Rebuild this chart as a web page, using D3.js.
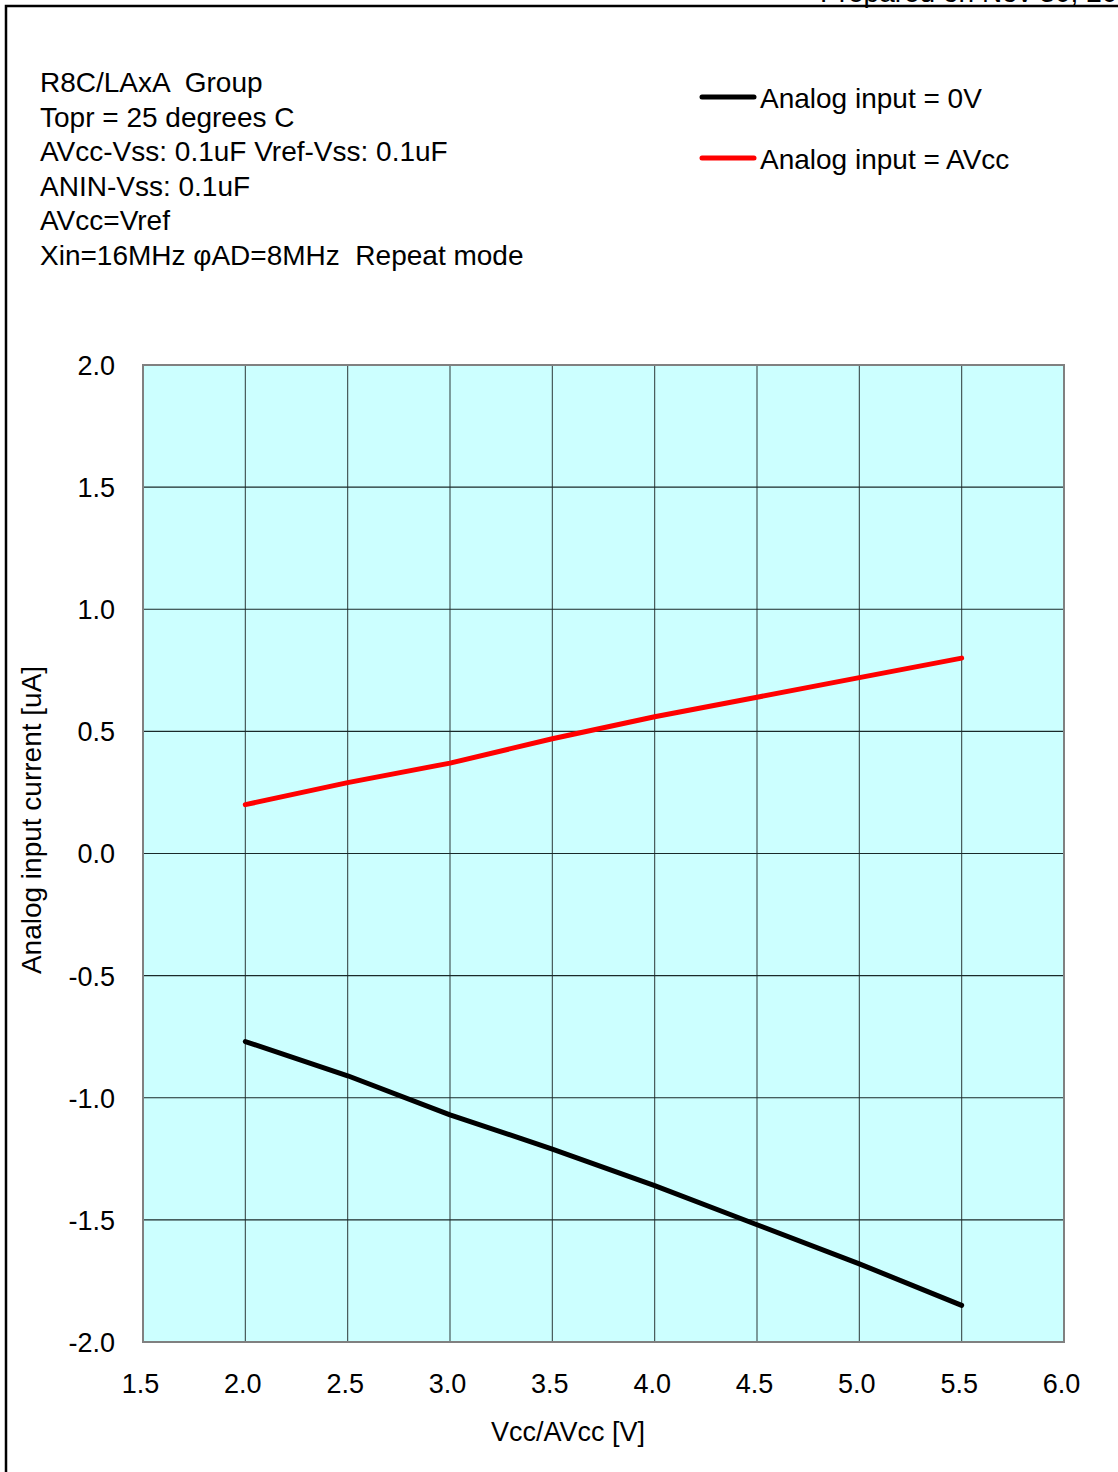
<!DOCTYPE html>
<html>
<head>
<meta charset="utf-8">
<script src="https://cdn.jsdelivr.net/npm/d3@7"></script>
<style>
  body { margin: 0; background: #fff; }
  svg text { font-family: "Liberation Sans", Arial, sans-serif; fill: #000; white-space: pre; }
</style>
</head>
<body>
<svg id="chart" width="1118" height="1472"></svg>
<script>
// supply voltage Vcc/AVcc [V]
var voltages = [2.0, 2.5, 3.0, 3.5, 4.0, 4.5, 5.0, 5.5];

// analog input current [uA]
var currentAt0V = [-0.77, -0.91, -1.07, -1.21, -1.36, -1.52, -1.68, -1.85];
var currentAtAVcc = [0.20, 0.29, 0.37, 0.47, 0.56, 0.64, 0.72, 0.80];

var seriesNames = ["Analog input = 0V", "Analog input = AVcc"];
var seriesColors = ["#000000", "#ff0000"];

var xTicks = [1.5, 2.0, 2.5, 3.0, 3.5, 4.0, 4.5, 5.0, 5.5, 6.0];
var yTicks = [-2.0, -1.5, -1.0, -0.5, 0.0, 0.5, 1.0, 1.5, 2.0];

var conditionLines = [
    "R8C/LAxA  Group",
    "Topr = 25 degrees C",
    "AVcc-Vss: 0.1uF Vref-Vss: 0.1uF",
    "ANIN-Vss: 0.1uF",
    "AVcc=Vref",
    "Xin=16MHz \u03c6AD=8MHz  Repeat mode"
];

var svg = d3.select("#chart");

// page frame, runs off the right and bottom of the photo
svg.append("rect")
    .attr("x", 6).attr("y", 6)
    .attr("width", 1200).attr("height", 1600)
    .attr("fill", "none")
    .attr("stroke", "#000")
    .attr("stroke-width", 2.5);

// page header, clipped by the top edge just like in the scan
svg.append("text")
    .attr("x", 820).attr("y", 2)
    .attr("font-size", 28)
    .text("Prepared on Nov 30, 2010");

var x = d3.scaleLinear().domain([1.5, 6.0]).range([143, 1064]);
var y = d3.scaleLinear().domain([-2.0, 2.0]).range([1342, 365]);

// hyphen instead of the unicode minus
var fmt = function(d) { return d3.format(".1f")(d).replace("\u2212", "-"); };

// plot background
svg.append("rect")
    .attr("x", x(1.5)).attr("y", y(2.0))
    .attr("width", x(6.0) - x(1.5))
    .attr("height", y(-2.0) - y(2.0))
    .attr("fill", "#ccffff");

// grid
var grid = svg.append("g").attr("class", "grid");
grid.selectAll("line.v")
    .data(xTicks.slice(1, -1))
    .enter().append("line")
    .attr("class", "v")
    .attr("x1", function(d) { return x(d); })
    .attr("x2", function(d) { return x(d); })
    .attr("y1", y(2.0)).attr("y2", y(-2.0))
    .attr("stroke", "#3a4a4a").attr("stroke-width", 1.1);
grid.selectAll("line.h")
    .data(yTicks.slice(1, -1))
    .enter().append("line")
    .attr("class", "h")
    .attr("x1", x(1.5)).attr("x2", x(6.0))
    .attr("y1", function(d) { return y(d); })
    .attr("y2", function(d) { return y(d); })
    .attr("stroke", "#1a2a2a").attr("stroke-width", 1.1);

// plot border
svg.append("rect")
    .attr("x", x(1.5)).attr("y", y(2.0))
    .attr("width", x(6.0) - x(1.5))
    .attr("height", y(-2.0) - y(2.0))
    .attr("fill", "none")
    .attr("stroke", "#808080")
    .attr("stroke-width", 2);

// axes: only the labels, the box and grid are drawn above
var xAxis = d3.axisBottom(x)
    .tickValues(xTicks)
    .tickSize(0)
    .tickPadding(32)
    .tickFormat(fmt);
var gx = svg.append("g")
    .attr("transform", "translate(-3," + y(-2.0) + ")")
    .call(xAxis);

var yAxis = d3.axisLeft(y)
    .tickValues(yTicks)
    .tickSize(0)
    .tickPadding(28)
    .tickFormat(fmt);
var gy = svg.append("g")
    .attr("transform", "translate(" + x(1.5) + ",0)")
    .call(yAxis);

[gx, gy].forEach(function(g) {
    g.select(".domain").remove();
    g.selectAll("text")
        .attr("font-size", 27)
        .attr("font-family", "Liberation Sans, Arial, sans-serif")
        .attr("fill", "#000");
});
gy.selectAll("text").attr("dy", "0.35em");
gx.selectAll("text").attr("dy", "0.71em");

// axis titles
svg.append("text")
    .attr("x", 568)
    .attr("y", 1441)
    .attr("text-anchor", "middle")
    .attr("font-size", 27)
    .text("Vcc/AVcc [V]");

svg.append("text")
    .attr("transform", "translate(41,820) rotate(-90)")
    .attr("text-anchor", "middle")
    .attr("font-size", 28)
    .text("Analog input current [uA]");

// data lines
var line = d3.line()
    .x(function(d) { return x(d[0]); })
    .y(function(d) { return y(d[1]); });

[currentAt0V, currentAtAVcc].forEach(function(values, i) {
    svg.append("path")
        .datum(d3.zip(voltages, values))
        .attr("d", line)
        .attr("fill", "none")
        .attr("stroke", seriesColors[i])
        .attr("stroke-width", 5)
        .attr("stroke-linecap", "round")
        .attr("stroke-linejoin", "round");
});

// conditions block
svg.append("g").selectAll("text")
    .data(conditionLines)
    .enter().append("text")
    .attr("x", 40)
    .attr("y", function(d, i) { return 92 + i * 34.6; })
    .attr("font-size", 28)
    .text(function(d) { return d; });

// legend
var legend = svg.append("g").selectAll("g")
    .data(seriesNames)
    .enter().append("g")
    .attr("transform", function(d, i) { return "translate(0," + (97 + i * 61) + ")"; });
legend.append("line")
    .attr("x1", 702).attr("x2", 754)
    .attr("y1", 0).attr("y2", 0)
    .attr("stroke", function(d, i) { return seriesColors[i]; })
    .attr("stroke-width", 5)
    .attr("stroke-linecap", "round");
legend.append("text")
    .attr("x", 760)
    .attr("y", 11)
    .attr("font-size", 28)
    .text(function(d) { return d; });
</script>
</body>
</html>
